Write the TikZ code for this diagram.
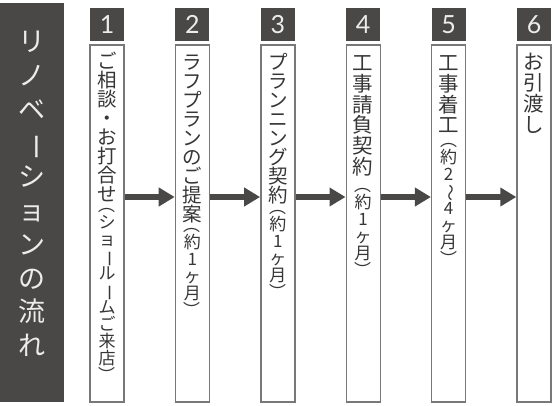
\documentclass[tikz,border=0pt]{standalone}
\usepackage{fontspec}
\usepackage{graphicx}
\setmainfont{Noto Sans CJK JP}
\newfontfamily\numfont{Lato}
\usetikzlibrary{arrows.meta,positioning}

\definecolor{panelgray}{HTML}{4A4846}
\definecolor{framegray}{HTML}{787878}
\definecolor{inkgray}{HTML}{363636}
\definecolor{palegray}{HTML}{ECECEC}

% rotated glyph for vertical writing
\newcommand\vr[1]{\rotatebox[origin=c]{-90}{#1}}
\newcommand\tightlines{\lineskiplimit=-100pt\relax}

\begin{document}
\begin{tikzpicture}[
    x=1pt, y=1pt,
    panel/.style={fill=panelgray, inner sep=0pt, minimum width=64pt, minimum height=399pt},
    numbox/.style={fill=panelgray, text=palegray, inner sep=0pt, minimum width=34pt, minimum height=33pt, font=\numfont\fontsize{25}{25}\selectfont},
    column/.style={draw=framegray, fill=white, line width=1.4pt, inner sep=0pt, minimum width=34pt, minimum height=357pt},
    flow/.style={draw=panelgray, line width=6pt, -{Triangle[length=16pt, width=18pt]}},
    stack/.style={align=center, inner sep=0pt, text=inkgray},
    maintext/.style={stack, font=\fontsize{20.5}{20.8}\selectfont\tightlines},
    kanatext/.style={stack, font=\fontsize{19.5}{19}\selectfont\tightlines},
    notetext/.style={stack, font=\fontsize{17}{17}\selectfont\tightlines},
    titletext/.style={align=center, inner sep=0pt, text=palegray, font=\fontsize{27}{33.8}\selectfont\tightlines}
]
    \useasboundingbox (0,0) rectangle (554,-406);

    % --- Titel (links) ---
    \node[panel] (panel) at (32, -202.5) {};
    \node[titletext, below=28pt of panel.north] (title) {リ\\ノ\\ベ\\\vr{ー}\\シ\\ョ\\ン\\の\\流\\れ};

    % --- Schritte 1-6 ---
    \foreach \i in {1,...,6} {
        \node[column] (c\i) at ({107+85.4*(\i-1)}, -223.5) {};
        \node[numbox] (n\i) at ({107+85.4*(\i-1)}, -24.5) {\i};
    }

    % --- Pfeile ---
    \foreach \i [evaluate=\i as \j using int(\i+1)] in {1,...,5}
        \draw[flow] ([yshift=26.5pt]c\i.east) -- ([yshift=26.5pt]c\j.west);

    % --- Texte ---
    \node[kanatext, below=8pt of c1.north] (t1) {ご\\相\\談\\・\\お\\打\\合\\せ};
    \node[notetext, below=-6pt of t1] (s1) {\vr{（}\\シ\\ョ\\\vr{ー}\\ル\\\vr{ー}\\ム\\ご\\来\\店\\\vr{）}};

    \node[kanatext, below=10pt of c2.north] (t2) {ラ\\フ\\プ\\ラ\\ン\\の\\ご\\提\\案};
    \node[notetext, below=-6pt of t2] (s2) {\vr{（}\\約\\1\\ヶ\\月\\\vr{）}};

    \node[kanatext, below=9pt of c3.north] (t3) {プ\\ラ\\ン\\ニ\\ン\\グ\\契\\約};
    \node[notetext, below=-6pt of t3] (s3) {\vr{（}\\約\\1\\ヶ\\月\\\vr{）}};

    \node[maintext, below=11pt of c4.north] (t4) {工\\事\\請\\負\\契\\約};
    \node[notetext, below=0pt of t4] (s4) {\vr{（}\\約\\1\\ヶ\\月\\\vr{）}};

    \node[maintext, below=11pt of c5.north] (t5) {工\\事\\着\\工};
    \node[notetext, below=-2pt of t5] (s5) {\vr{（}\\約\\2\\\vr{〜}\\4\\ヶ\\月\\\vr{）}};

    \node[maintext, below=9pt of c6.north] (t6) {お\\引\\渡\\し};
\end{tikzpicture}
\end{document}
